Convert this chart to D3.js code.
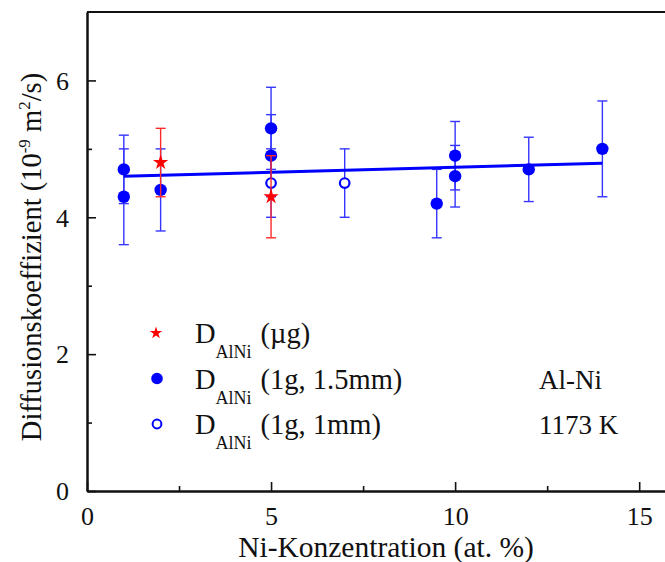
<!DOCTYPE html>
<html>
<head>
<meta charset="utf-8">
<script src="https://cdn.jsdelivr.net/npm/d3@7"></script>
<style>
  html, body { margin: 0; padding: 0; background: #fff; }
  svg { display: block; font-family: "Liberation Serif", "Times New Roman", serif; }
</style>
</head>
<body>
<svg id="chart" width="665" height="562"></svg>
<script>
// Diffusion coefficient of Al–Ni melts at 1173 K vs. Ni concentration
const ugX = [2, 5];
const ugY = [4.8, 4.3];
const ugErr = [0.5, 0.6];

const mm15X = [1, 1, 2, 5, 5, 9.5, 10, 10, 12, 14];
const mm15Y = [4.7, 4.3, 4.4, 5.3, 4.9, 4.2, 4.9, 4.6, 4.7, 5.0];
const mm15Err = [0.5, 0.7, 0.6, 0.6, 0.6, 0.5, 0.5, 0.45, 0.47, 0.7];

const mm1X = [5, 7];
const mm1Y = [4.5, 4.5];
const mm1Err = [0.5, 0.5];

// linear fit through all samples (endpoints)
const fitX = [1, 14];
const fitY = [4.6, 4.79];

const xMajor = [0, 5, 10, 15];
const xMinor = [2.5, 7.5, 12.5];
const yMajor = [0, 2, 4, 6];
const yMinor = [1, 3, 5];

const legendLabels = ["(µg)", "(1g, 1.5mm)", "(1g, 1mm)"];
const notes = ["Al-Ni", "1173 K"];

const FONT = "Liberation Serif, Times New Roman, serif";
const svg = d3.select("#chart");
const plotLeft = 87, plotTop = 12, plotBottom = 491, plotRight = 676;

const x = d3.scaleLinear().domain([0, 16]).range([plotLeft, plotRight]);
const y = d3.scaleLinear().domain([0, 7]).range([plotBottom, plotTop]);

const BLUE = "#0000ff", BAR_BLUE = "#3535ff", RED = "#ff0000", BAR_RED = "#ff2a2a";

// frame
svg.append("line").attr("x1", plotLeft).attr("x2", plotRight).attr("y1", plotTop).attr("y2", plotTop)
  .attr("stroke", "#111").attr("stroke-width", 2);

// axes with inward ticks
const xAxis = svg.append("g").attr("transform", `translate(0,${plotBottom})`)
  .call(d3.axisBottom(x).tickValues(xMajor).tickSizeInner(-9).tickSizeOuter(0).tickPadding(16).tickFormat(d3.format("d")));
const xMinorAxis = svg.append("g").attr("transform", `translate(0,${plotBottom})`)
  .call(d3.axisBottom(x).tickValues(xMinor).tickSizeInner(-5).tickSizeOuter(0).tickFormat(""));
const yAxis = svg.append("g").attr("transform", `translate(${plotLeft},0)`)
  .call(d3.axisLeft(y).tickValues(yMajor).tickSizeInner(-9).tickSizeOuter(0).tickPadding(18).tickFormat(d3.format("d")));
const yMinorAxis = svg.append("g").attr("transform", `translate(${plotLeft},0)`)
  .call(d3.axisLeft(y).tickValues(yMinor).tickSizeInner(-5).tickSizeOuter(0).tickFormat(""));

[xAxis, xMinorAxis, yAxis, yMinorAxis].forEach(g => {
  g.attr("font-family", FONT);
  g.select(".domain").attr("stroke", "#111").attr("stroke-width", 2);
  g.selectAll(".tick line").attr("stroke", "#111").attr("stroke-width", 1.6);
  g.selectAll(".tick text").attr("fill", "#111").attr("font-size", 26).attr("font-family", FONT);
});
yAxis.selectAll(".tick text").attr("dy", "0.34em");
xAxis.selectAll(".tick text").attr("dy", "0.71em");

// axis titles
svg.append("text").attr("x", 386).attr("y", 557).attr("text-anchor", "middle")
  .attr("font-family", FONT).attr("font-size", 29.5).attr("fill", "#111").text("Ni-Konzentration (at. %)");

const yt = svg.append("text")
  .attr("transform", "translate(41,257) rotate(-90)")
  .attr("text-anchor", "middle").attr("font-family", FONT).attr("font-size", 28.5).attr("fill", "#111");
yt.append("tspan").text("Diffusionskoeffizient (10");
yt.append("tspan").attr("font-size", 17).attr("dy", -11).text("-9");
yt.append("tspan").attr("dy", 11).text(" m");
yt.append("tspan").attr("font-size", 17).attr("dy", -11).text("2");
yt.append("tspan").attr("dy", 11).text("/s)");

// error bars
function errorBars(xs, ys, es, color) {
  const g = svg.append("g").attr("stroke", color).attr("stroke-width", 1.4).attr("fill", "none");
  xs.forEach((xv, i) => {
    const cx = x(xv), y1 = y(ys[i] + es[i]), y0 = y(ys[i] - es[i]);
    g.append("line").attr("x1", cx).attr("x2", cx).attr("y1", y1).attr("y2", y0);
    g.append("line").attr("x1", cx - 5).attr("x2", cx + 5).attr("y1", y1).attr("y2", y1);
    g.append("line").attr("x1", cx - 5).attr("x2", cx + 5).attr("y1", y0).attr("y2", y0);
  });
}

errorBars(mm15X, mm15Y, mm15Err, BAR_BLUE);
errorBars(mm1X, mm1Y, mm1Err, BAR_BLUE);

// fit line
svg.append("path")
  .datum(fitX.map((xv, i) => [xv, fitY[i]]))
  .attr("d", d3.line().x(d => x(d[0])).y(d => y(d[1])))
  .attr("stroke", BLUE).attr("stroke-width", 3).attr("fill", "none");

// 1g, 1.5mm: filled circles
svg.append("g").selectAll("circle").data(mm15X).join("circle")
  .attr("cx", d => x(d)).attr("cy", (d, i) => y(mm15Y[i])).attr("r", 6.2)
  .attr("fill", BLUE);

// 1g, 1mm: open circles
svg.append("g").selectAll("circle").data(mm1X).join("circle")
  .attr("cx", d => x(d)).attr("cy", (d, i) => y(mm1Y[i])).attr("r", 4.8)
  .attr("fill", "#fff").attr("stroke", BLUE).attr("stroke-width", 2.2);

// microgravity: red stars with their error bars on top
errorBars(ugX, ugY, ugErr, BAR_RED);
const star = d3.symbol().type(d3.symbolStar);
svg.append("g").selectAll("path").data(ugX).join("path")
  .attr("transform", (d, i) => `translate(${x(d)},${y(ugY[i])})`)
  .attr("d", star.size(72)())
  .attr("fill", RED);

// legend
const legRows = [343, 388.5, 434];
const lg = svg.append("g").attr("font-family", FONT);
lg.append("path").attr("transform", `translate(156,${legRows[0] - 10})`)
  .attr("d", d3.symbol().type(d3.symbolStar).size(48)()).attr("fill", RED);
lg.append("circle").attr("cx", 157).attr("cy", legRows[1] - 10).attr("r", 5.8).attr("fill", BLUE);
lg.append("circle").attr("cx", 157).attr("cy", legRows[2] - 10).attr("r", 4.4)
  .attr("fill", "#fff").attr("stroke", BLUE).attr("stroke-width", 2);

legendLabels.forEach((lab, i) => {
  const t = lg.append("text").attr("x", 195).attr("y", legRows[i])
    .attr("font-size", 28.5).attr("fill", "#111");
  t.append("tspan").text("D");
  t.append("tspan").attr("font-size", 18).attr("dy", 15).text("AlNi");
  t.append("tspan").attr("dy", -15).attr("dx", 9).text(lab);
});

// system annotation
notes.forEach((n, i) => {
  svg.append("text").attr("x", 539).attr("y", legRows[i + 1])
    .attr("font-family", FONT).attr("font-size", 27).attr("fill", "#111").text(n);
});
</script>
</body>
</html>
